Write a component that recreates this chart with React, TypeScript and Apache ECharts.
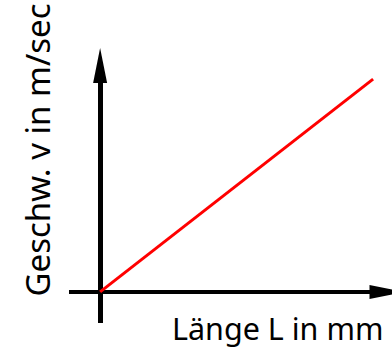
import React, { useEffect, useRef } from "react";
import * as echarts from "echarts";

// Length L (arbitrary units) and speed v (arbitrary units) of the linear relation
const lengthValues = [0, 10];
const speedValues = [0, 7.8];
const xTitle = "Länge L in mm";
const yTitle = "Geschw. v in m/sec";

export default function App() {
  const ref = useRef<HTMLDivElement>(null);
  useEffect(() => {
    if (!ref.current) return;
    const chart = echarts.init(ref.current, null, { renderer: "svg" });
    const data = lengthValues.map((l, i) => [l, speedValues[i]]);
    chart.setOption({
      animation: false,
      backgroundColor: "#ffffff",
      grid: { left: 69, right: 5, top: 65.5, bottom: 31, containLabel: false },
      xAxis: {
        type: "value",
        min: -1.14,
        max: 10.51,
        axisLine: {
          onZero: true,
          symbol: ["none", "triangle"],
          symbolSize: [14, 35],
          lineStyle: { color: "#000", width: 4, cap: "butt" },
        },
        axisTick: { show: false },
        axisLabel: { show: false },
        splitLine: { show: false },
      },
      yAxis: {
        type: "value",
        min: -1.14,
        max: 8.3,
        axisLine: {
          onZero: true,
          symbol: ["none", "triangle"],
          symbolSize: [14, 35],
          lineStyle: { color: "#000", width: 5, cap: "butt" },
        },
        axisTick: { show: false },
        axisLabel: { show: false },
        splitLine: { show: false },
      },
      series: [
        {
          type: "line",
          data,
          symbol: "none",
          lineStyle: { color: "#ff0000", width: 3 },
          z: 1,
        },
      ],
      graphic: [
        {
          type: "text",
          left: 172,
          top: 312,
          style: {
            text: xTitle,
            font: "30.5px 'Noto Sans'",
            fill: "#000",
          },
        },
        {
          type: "text",
          x: 37,
          y: 150,
          rotation: Math.PI / 2,
          style: {
            text: yTitle,
            font: "33px 'Noto Sans'",
            fill: "#000",
            textAlign: "center",
            textVerticalAlign: "middle",
          },
        },
      ],
    });
    return () => chart.dispose();
  }, []);
  return <div ref={ref} style={{ width: 392, height: 354, position: "absolute", left: 0, top: 0 }} />;
}
